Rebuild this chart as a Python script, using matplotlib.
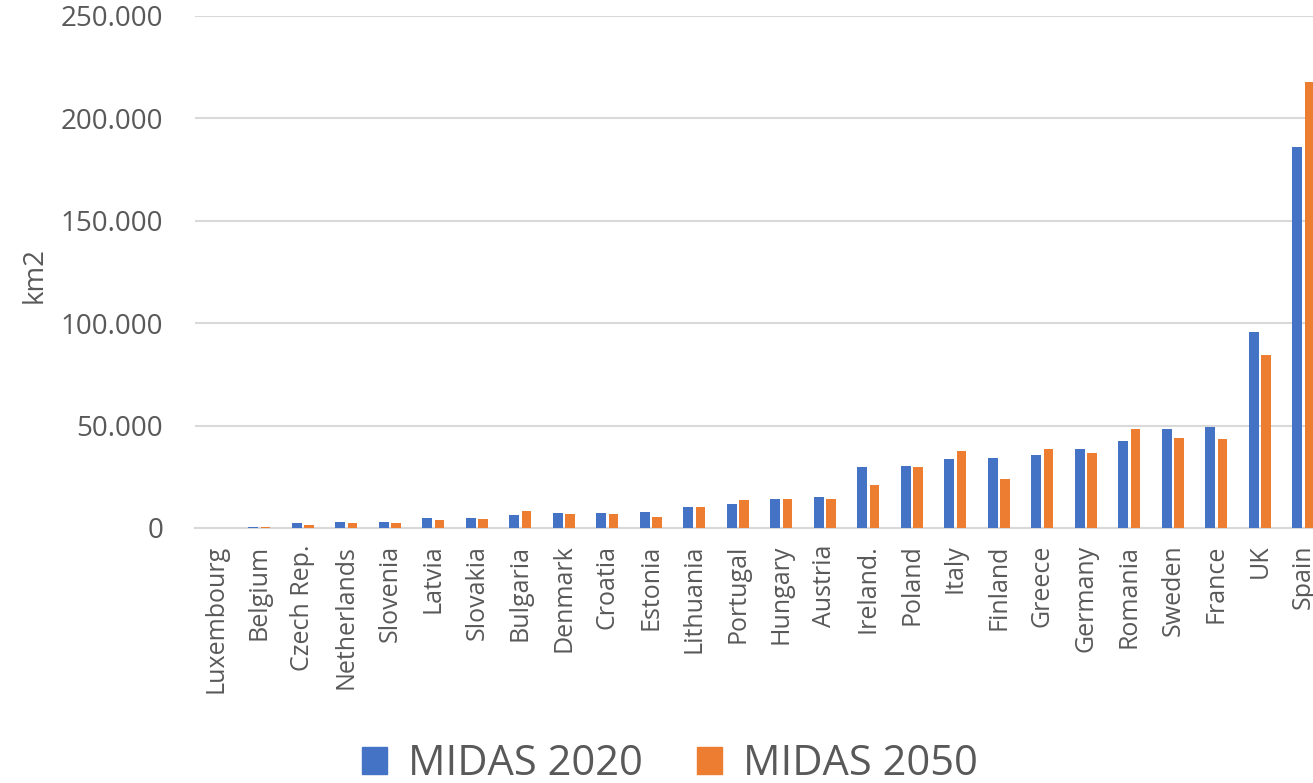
import matplotlib.pyplot as plt
import numpy as np
from matplotlib.patches import Patch
from matplotlib.ticker import FuncFormatter, MultipleLocator

plt.rcParams['font.family'] = ['Open Sans', 'DejaVu Sans']

countries = ['Luxembourg', 'Belgium', 'Czech Rep.', 'Netherlands', 'Slovenia', 'Latvia',
             'Slovakia', 'Bulgaria', 'Denmark', 'Croatia', 'Estonia', 'Lithuania',
             'Portugal', 'Hungary', 'Austria', 'Ireland.', 'Poland', 'Italy', 'Finland',
             'Greece', 'Germany', 'Romania', 'Sweden', 'France', 'UK', 'Spain']
# valori in km2
midas_2020 = [200, 600, 2300, 2700, 3100, 4700, 4900, 6500, 7500, 7500, 7800, 10400,
              11700, 14200, 15200, 29800, 30300, 33600, 34400, 35700, 38500, 42400,
              48400, 49400, 95900, 185900]
midas_2050 = [100, 400, 1300, 2400, 2600, 4100, 4400, 8300, 7000, 7000, 5200, 10300,
              13700, 14200, 14400, 21000, 30000, 37700, 24000, 38500, 36700, 48100,
              43900, 43400, 84600, 217700]

blu = '#4472C4'
arancio = '#ED7D31'
grigio = '#595959'
linea = '#D9D9D9'

fig = plt.figure(figsize=(13.13, 7.83), dpi=100)
ax = fig.add_axes([195 / 1313, 1 - 528 / 783, 1 - 195 / 1313, (528 - 16) / 783])

x = np.arange(len(countries))
w = 0.223
ax.bar(x - 0.14, midas_2020, w, color=blu, zorder=3)
ax.bar(x + 0.14, midas_2050, w, color=arancio, zorder=3)

ax.set_ylim(0, 250000)
ax.set_xlim(-0.48, 25.22)
ax.yaxis.set_major_locator(MultipleLocator(50000))
ax.yaxis.set_major_formatter(FuncFormatter(lambda v, p: '{:,.0f}'.format(v).replace(',', '.')))
ax.grid(axis='y', color=linea, linewidth=1.5, zorder=0)

ax.set_xticks(x)
ax.set_xticklabels(countries, rotation=90, fontsize=18, color=grigio)
ax.tick_params(axis='x', length=0, pad=12)
ax.tick_params(axis='y', length=0, pad=23, labelsize=20, labelcolor=grigio)

for s in ['top', 'right', 'left']:
    ax.spines[s].set_visible(False)
ax.spines['bottom'].set_color(linea)
ax.spines['bottom'].set_linewidth(1.5)

fig.text(35 / 1313, 1 - 275 / 783, 'km2', rotation=90, ha='center', va='center',
         fontsize=20, color=grigio)

handles = [Patch(color=blu, label='MIDAS 2020'), Patch(color=arancio, label='MIDAS 2050')]
fig.legend(handles=handles, loc='center', bbox_to_anchor=(670 / 1313, 1 - 764 / 783), ncol=2,
           frameon=False, fontsize=30, labelcolor=grigio, handlelength=0.6, handleheight=0.6,
           handletextpad=0.5, columnspacing=1.3, borderpad=0)

fig.savefig('out.png', dpi=100)
